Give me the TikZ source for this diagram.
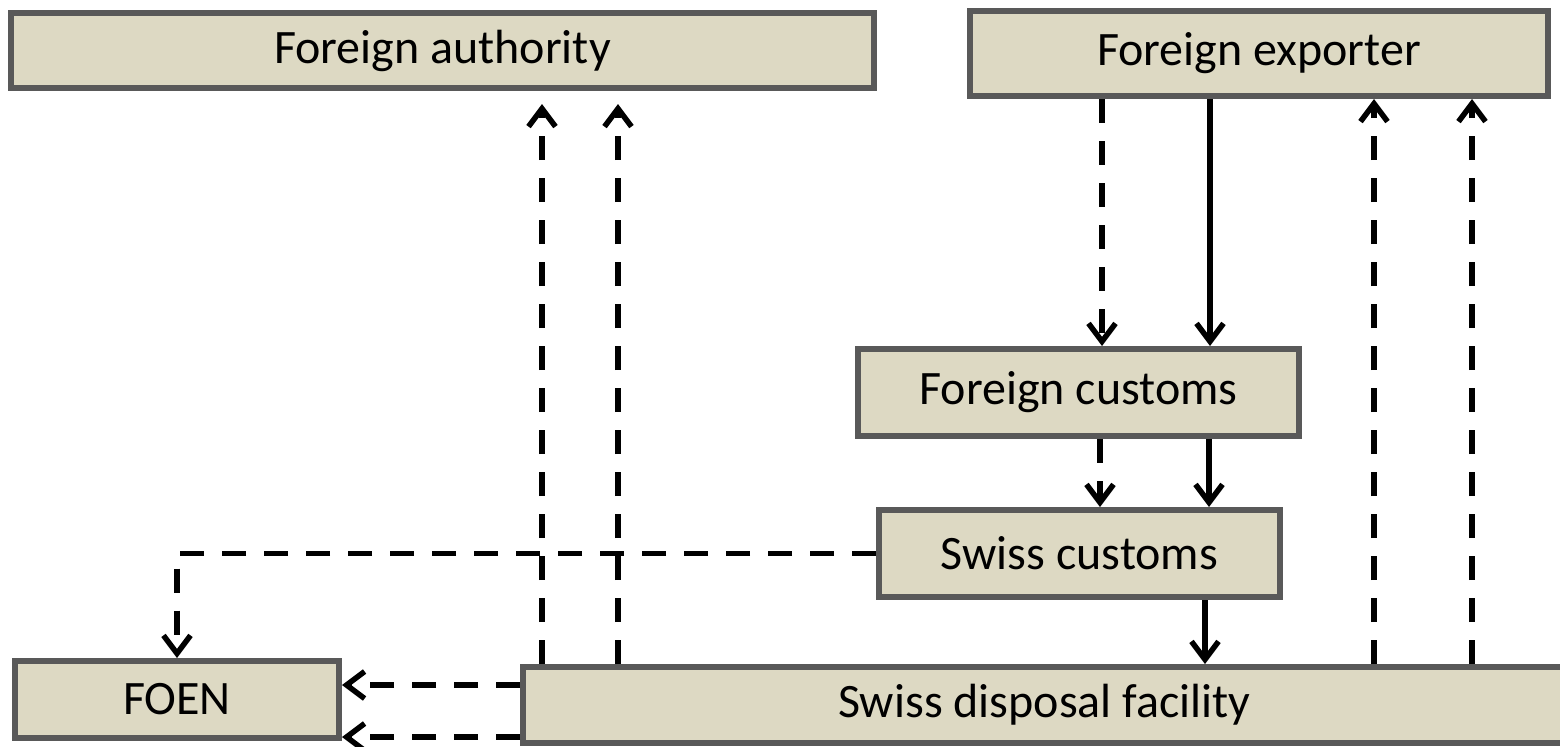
\documentclass[tikz,border=0pt]{standalone}
\usepackage{fontspec}
\setmainfont{Carlito}
\usetikzlibrary{arrows.meta}
\definecolor{boxfill}{HTML}{DDD9C3}
\definecolor{boxline}{HTML}{595959}

\begin{document}
\begin{tikzpicture}[
    	x=0.5pt, y=-0.5pt,
    	box/.style={draw=boxline, line width=3pt, fill=boxfill, inner sep=0pt,
    	    font=\fontsize{24}{28}\selectfont},
    	arrow/.style={-{Straight Barb[length=9pt, width=13.5pt]}, line width=2.75pt},
    	dasharrow/.style={arrow, dash pattern=on 12pt off 9pt},
    ]
        \useasboundingbox (0, 0) rectangle (1560, 746);

        \node[box, minimum width=431.5pt, minimum height=37.5pt] (auth) at (442.5, 50.5) {Foreign authority};
        \node[box, minimum width=289pt, minimum height=42.5pt] (exp) at (1259, 53.5) {Foreign exporter};
        \node[box, minimum width=220.5pt, minimum height=43.5pt] (fcust) at (1078.5, 392.5) {Foreign customs};
        \node[box, minimum width=200.5pt, minimum height=43.5pt] (scust) at (1079.5, 553.5) {Swiss customs};
        \node[box, minimum width=162pt, minimum height=38.5pt] (foen) at (177, 699.5) {FOEN};
        \node[box, minimum width=521.5pt, minimum height=38pt] (disp) at (1044.5, 705) {Swiss disposal facility};

        \draw[dasharrow, shorten >=6.5pt] ([xshift=11pt]disp.north west) -- ([xshift=11pt]disp.north west |- auth.south);
        \draw[dasharrow, shorten >=6.5pt] ([xshift=49pt]disp.north west) -- ([xshift=49pt]disp.north west |- auth.south);
        \draw[dasharrow] ([xshift=427pt]disp.north west) -- ([xshift=427pt]disp.north west |- exp.south);
        \draw[dasharrow] ([xshift=476pt]disp.north west) -- ([xshift=476pt]disp.north west |- exp.south);

        \draw[dasharrow] ([xshift=123.5pt]fcust.north west |- exp.south) -- ([xshift=123.5pt]fcust.north west);
        \draw[arrow] ([xshift=177.5pt]fcust.north west |- exp.south) -- ([xshift=177.5pt]fcust.north west);
        \draw[dasharrow] ([xshift=122.5pt]fcust.south west) -- ([xshift=122.5pt]fcust.south west |- scust.north);
        \draw[arrow] ([xshift=177pt]fcust.south west) -- ([xshift=177pt]fcust.south west |- scust.north);
        \draw[arrow] ([xshift=164.5pt]scust.south west) -- ([xshift=164.5pt]scust.south west |- disp.north);

        \draw[dasharrow] (scust.west) -| (foen.north);
        \draw[dasharrow] ([yshift=7.25pt]foen.east -| disp.west) -- ([yshift=7.25pt]foen.east);
        \draw[dasharrow] ([yshift=-18.75pt]foen.east -| disp.west) -- ([yshift=-18.75pt]foen.east);
    \end{tikzpicture}
\end{document}
